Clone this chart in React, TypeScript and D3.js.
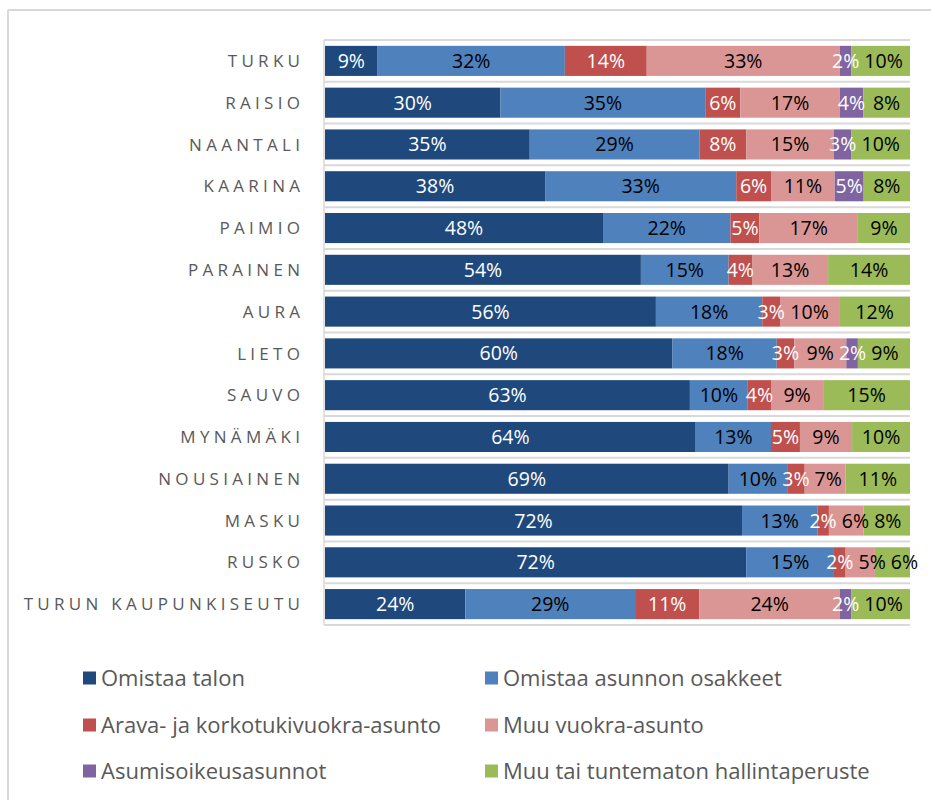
import React from 'react';
import * as d3 from 'd3';

const categories = [
  'TURKU', 'RAISIO', 'NAANTALI', 'KAARINA', 'PAIMIO', 'PARAINEN', 'AURA',
  'LIETO', 'SAUVO', 'MYNÄMÄKI', 'NOUSIAINEN', 'MASKU', 'RUSKO', 'TURUN KAUPUNKISEUTU',
];
const seriesNames = [
  'Omistaa talon',
  'Omistaa asunnon osakkeet',
  'Arava- ja korkotukivuokra-asunto',
  'Muu vuokra-asunto',
  'Asumisoikeusasunnot',
  'Muu tai tuntematon hallintaperuste',
];
const omistaaTalon = [9, 30, 35, 38, 48, 54, 56, 60, 63, 64, 69, 72, 72, 24];
const omistaaOsakkeet = [32, 35, 29, 33, 22, 15, 18, 18, 10, 13, 10, 13, 15, 29];
const aravaVuokra = [14, 6, 8, 6, 5, 4, 3, 3, 4, 5, 3, 2, 2, 11];
const muuVuokra = [33, 17, 15, 11, 17, 13, 10, 9, 9, 9, 7, 6, 5, 24];
const asumisoikeus = [2, 4, 3, 5, 0, 0, 0, 2, 0, 0, 0, 0, 0, 2];
const muuTuntematon = [10, 8, 10, 8, 9, 14, 12, 9, 15, 10, 11, 8, 6, 10];

const seriesValues = [omistaaTalon, omistaaOsakkeet, aravaVuokra, muuVuokra, asumisoikeus, muuTuntematon];
const colors = ['#1F497D', '#4F81BD', '#C0504D', '#DA9694', '#8064A2', '#9BBB59'];
const labelColors = ['#FFFFFF', '#000000', '#FFFFFF', '#000000', '#FFFFFF', '#000000'];

const W = 931;
const H = 800;
const plot = { left: 325, right: 910, top: 40, bottom: 625 };
const FONT = "'Open Sans', 'Noto Sans', sans-serif";
const LABEL_SIZE = 19.5;
const LABEL_GAP = 5;

function labelWidth(s: string, size: number) {
  let w = 0;
  for (const ch of s) w += ch === '%' ? 0.83 : 0.572;
  return w * size;
}

export default function App() {
  const rows = categories.map((c, i) => {
    const r: Record<string, any> = { cat: c };
    seriesNames.forEach((s, k) => (r[s] = seriesValues[k][i]));
    return r;
  });
  const stacked = d3.stack<any>().keys(seriesNames).offset(d3.stackOffsetExpand)(rows);

  const x = d3.scaleLinear().domain([0, 1]).range([plot.left, plot.right]);
  const y = d3.scaleBand<string>().domain(categories).range([plot.top, plot.bottom]).paddingInner(0.28).paddingOuter(0.14);
  const step = y.step();
  const boundaries = d3.range(categories.length + 1).map((i) => plot.top + i * step);

  // data labels with simple left-to-right collision avoidance per row
  const labels: { k: number; i: number; text: string; cx: number; cy: number }[] = [];
  categories.forEach((c, i) => {
    let prevRight = -Infinity;
    const cy = (y(c) as number) + y.bandwidth() / 2;
    stacked.forEach((layer, k) => {
      const v = seriesValues[k][i];
      if (!v) return;
      const d = layer[i];
      const text = v + '%';
      const w = labelWidth(text, LABEL_SIZE);
      let cx = (x(d[0]) + x(d[1])) / 2;
      if (cx - w / 2 < prevRight + LABEL_GAP) cx = prevRight + LABEL_GAP + w / 2;
      prevRight = cx + w / 2;
      labels.push({ k, i, text, cx, cy });
    });
  });

  const legendCols = [83, 485];
  const legendRows = [678, 725, 771];
  const catSpacing = 4.3;

  return (
    <svg width={W} height={H} style={{ position: 'absolute', left: 0, top: 0, background: '#fff' }}>
      <rect x={0} y={0} width={W} height={H} fill="#fff" />
      {/* outer chart frame */}
      <line x1={8} x2={8} y1={10} y2={H} stroke="#D9D9D9" strokeWidth={2} />
      <line x1={8} x2={W} y1={10} y2={10} stroke="#D9D9D9" strokeWidth={2} />

      {/* grid lines */}
      {boundaries.map((b, i) => (
        <line key={i} x1={plot.left - 1} x2={plot.right} y1={b} y2={b} stroke="#D9D9D9" strokeWidth={2} />
      ))}
      <line x1={plot.left - 1} x2={plot.left - 1} y1={plot.top} y2={plot.bottom} stroke="#D9D9D9" strokeWidth={1.5} />

      {/* bars */}
      {stacked.map((layer, k) => (
        <g key={k}>
          {layer.map((d, i) => {
            const x0 = x(d[0]);
            const x1 = x(d[1]);
            if (x1 - x0 <= 0) return null;
            return (
              <rect key={i} x={x0} y={y(categories[i])} width={x1 - x0} height={y.bandwidth()} fill={colors[k]} />
            );
          })}
        </g>
      ))}

      {/* data labels */}
      <g>
        {labels.map((l) => (
          <text
            key={l.k + '-' + l.i}
            x={l.cx}
            y={l.cy}
            dy="0.36em"
            textAnchor="middle"
            fontFamily={FONT}
            fontSize={LABEL_SIZE}
            fill={labelColors[l.k]}
          >
            {l.text}
          </text>
        ))}
      </g>

      {/* category labels */}
      {categories.map((c) => (
        <text
          key={c}
          x={300 + catSpacing}
          y={(y(c) as number) + y.bandwidth() / 2}
          dy="0.36em"
          textAnchor="end"
          fontFamily={FONT}
          fontSize={17}
          letterSpacing={catSpacing}
          fill="#595959"
        >
          {c}
        </text>
      ))}

      {/* legend */}
      {seriesNames.map((s, k) => {
        const lx = legendCols[k % 2];
        const ly = legendRows[Math.floor(k / 2)];
        return (
          <g key={s}>
            <rect x={lx} y={ly - 6.5} width={13} height={13} fill={colors[k]} />
            <text x={lx + 18} y={ly} dy="0.36em" fontFamily={FONT} fontSize={22} fill="#595959">
              {s}
            </text>
          </g>
        );
      })}
    </svg>
  );
}
